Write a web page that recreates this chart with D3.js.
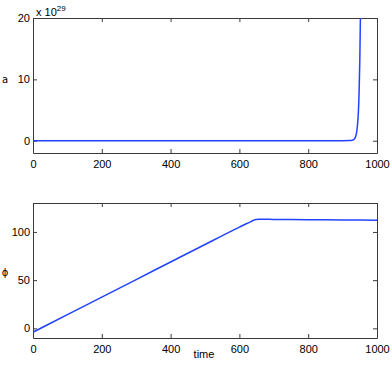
<!DOCTYPE html>
<meta charset="utf-8">
<script src="https://cdn.jsdelivr.net/npm/d3@7"></script>
<style>
body { margin: 0; background: #fff; }
text { font-family: "Liberation Sans", Arial, sans-serif; font-size: 11px; fill: #000; }
.axis path, .axis line { stroke: #3a3a3a; }
</style>
<body>
<script>

// top panel: a (x 1e29) vs time
var aTime  = [0, 100, 200, 300, 400, 500, 600, 700, 800, 900, 920, 930, 935, 940, 943, 946, 948, 950, 952];
var aValue = [0, 0, 0, 0, 0, 0, 0, 0, 0, 0, 0.02, 0.12, 0.35, 1.1, 2.4, 4.8, 8, 13, 21];

// bottom panel: phi vs time
var phiTime  = [0, 100, 200, 300, 400, 500, 600, 620, 635, 645, 655, 700, 800, 900, 1000];
var phiValue = [-4, 14.2, 32.4, 50.6, 68.8, 87, 105, 108.5, 111, 112.6, 113.1, 113, 112.7, 112.4, 112.1];

var xTicks = [0, 200, 400, 600, 800, 1000];
var aTicks = [0, 10, 20];
var phiTicks = [0, 50, 100];

var width = 392, height = 369;
var svg = d3.select("body").append("svg")
    .attr("width", width)
    .attr("height", height);

var left = 33, right = 377;

function panel(cfg) {
  var x = d3.scaleLinear().domain([0, 1000]).range([left, right]);
  var y = d3.scaleLinear().domain(cfg.ydom).range([cfg.bottom, cfg.top]);
  var g = svg.append("g");

  var clipId = "clip" + cfg.id;
  g.append("clipPath").attr("id", clipId)
    .append("rect")
    .attr("x", left).attr("y", cfg.top)
    .attr("width", right - left).attr("height", cfg.bottom - cfg.top);

  // box ticks on all four sides, pointing inward
  g.append("g").attr("class", "axis")
    .attr("transform", "translate(0," + cfg.bottom + ")")
    .call(d3.axisBottom(x).tickValues(xTicks).tickFormat(d3.format("d"))
      .tickSizeInner(-4).tickSizeOuter(0).tickPadding(7));
  g.append("g").attr("class", "axis")
    .attr("transform", "translate(0," + cfg.top + ")")
    .call(d3.axisTop(x).tickValues(xTicks).tickSizeInner(-4).tickSizeOuter(0).tickFormat(""));
  g.append("g").attr("class", "axis")
    .attr("transform", "translate(" + left + ",0)")
    .call(d3.axisLeft(y).tickValues(cfg.yticks).tickSizeInner(-4).tickSizeOuter(0).tickPadding(3));
  g.append("g").attr("class", "axis")
    .attr("transform", "translate(" + right + ",0)")
    .call(d3.axisRight(y).tickValues(cfg.yticks).tickSizeInner(-4).tickSizeOuter(0).tickFormat(""));

  g.selectAll(".axis text")
    .style("font-family", "'Liberation Sans', Arial, sans-serif")
    .style("font-size", "11px");

  var line = d3.line()
    .x(function(d) { return x(d[0]); })
    .y(function(d) { return y(d[1]); })
    .curve(d3.curveMonotoneX);

  g.append("path")
    .datum(d3.zip(cfg.xs, cfg.ys))
    .attr("clip-path", "url(#" + clipId + ")")
    .attr("fill", "none")
    .attr("stroke", "#2342ff")
    .attr("stroke-width", 1.5)
    .attr("d", line);

  g.append("text")
    .attr("x", cfg.labelX).attr("y", cfg.labelY)
    .attr("text-anchor", "middle")
    .style("font-family", "'DejaVu Sans', sans-serif")
    .style("font-size", "10px")
    .style("fill", "#000")
    .text(cfg.label);

  return { x: x, y: y };
}

panel({ id: 1, top: 18, bottom: 153, ydom: [-2, 20], yticks: aTicks,
        xs: aTime, ys: aValue, label: "a", labelX: 5, labelY: 83 });
panel({ id: 2, top: 203, bottom: 338, ydom: [-10, 130], yticks: phiTicks,
        xs: phiTime, ys: phiValue, label: "\u03d5", labelX: 5, labelY: 276 });

// exponent label
var ex = svg.append("text").attr("x", 36).attr("y", 16);
ex.append("tspan").text("x 10");
ex.append("tspan").attr("dy", -5).style("font-size", "8px").text("29");

svg.append("text")
  .attr("x", 204).attr("y", 358)
  .attr("text-anchor", "middle")
  .text("time");

</script>
</body>
